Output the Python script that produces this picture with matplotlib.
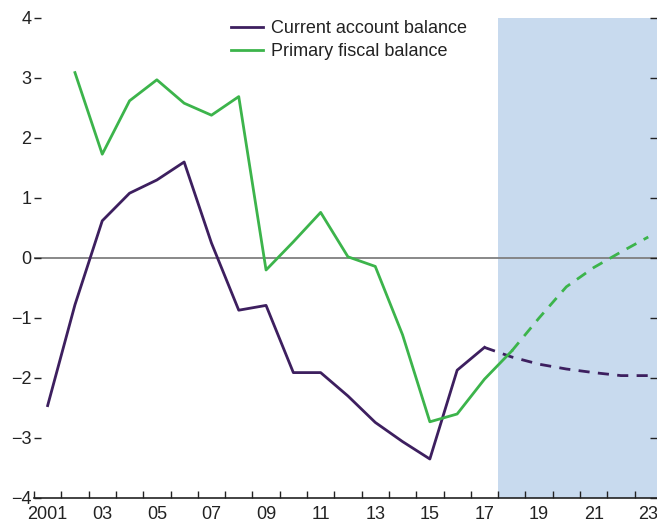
import matplotlib
matplotlib.use("Agg")
import matplotlib.pyplot as plt
from matplotlib.ticker import FixedLocator

plt.rcParams['font.family'] = ['Liberation Sans Narrow', 'Liberation Sans', 'DejaVu Sans']

# Data (percent of GDP)
years = list(range(2001, 2024))
current_account = [-2.46, -0.78, 0.62, 1.08, 1.30, 1.60, 0.25, -0.87, -0.79, -1.91,
                   -1.91, -2.30, -2.74, -3.06, -3.35, -1.87, -1.49,
                   -1.65, -1.77, -1.85, -1.91, -1.96, -1.96]
fiscal_years = list(range(2002, 2024))
primary_fiscal = [3.09, 1.73, 2.62, 2.97, 2.58, 2.38, 2.69, -0.20, 0.27, 0.76,
                  0.02, -0.14, -1.28, -2.73, -2.60, -2.02, -1.55,
                  -1.00, -0.48, -0.16, 0.10, 0.35]
ca_last_actual = 2017
pf_last_actual = 2018
forecast_start = 2017.5

tick_labels = ['2001'] + ['%02d' % (y % 100) for y in range(2003, 2024, 2)]

PURPLE = '#3d1f5f'
GREEN = '#3cb44b'
SHADE = '#c8daee'

fig = plt.figure(figsize=(6.57, 5.30), dpi=100)
ax = fig.add_axes([34 / 657, 32 / 530, 623 / 657, 480 / 530])

ax.axvspan(forecast_start, 2030, color=SHADE, lw=0, zorder=0)
ax.axhline(0, color='#7f7f7f', lw=1.3, zorder=1)

# split actual / projected
i = years.index(ca_last_actual)
ax.plot(years[:i + 1], current_account[:i + 1], color=PURPLE, lw=2, label='Current account balance', zorder=3)
ax.plot(years[i:], current_account[i:], color=PURPLE, lw=2, ls=(0, (4, 3)), zorder=3)

j = fiscal_years.index(pf_last_actual)
ax.plot(fiscal_years[:j + 1], primary_fiscal[:j + 1], color=GREEN, lw=2, label='Primary fiscal balance', zorder=3)
ax.plot(fiscal_years[j:], primary_fiscal[j:], color=GREEN, lw=2, ls=(0, (4, 3)), zorder=3)

ax.set_xlim(2000.5, 2000.5 + 623 / 27.3)
ax.set_ylim(-4, 4)

ax.xaxis.set_major_locator(FixedLocator(list(range(2001, 2024, 2))))
ax.set_xticklabels(tick_labels)
ax.xaxis.set_minor_locator(FixedLocator([y + 0.5 for y in range(2000, 2023)]))
ax.tick_params(axis='x', which='major', length=0, labelsize=13, pad=6, colors='#222222')
ax.tick_params(axis='x', which='minor', direction='in', length=5, width=1, color='#222222')

ax.set_yticks(range(-4, 5))
ax.set_yticklabels([str(v).replace('-', '\u2212') for v in range(-4, 5)])
ax.tick_params(axis='y', which='major', direction='in', length=5, width=1, labelsize=13,
               pad=2, left=True, right=True, colors='#222222')

for s in ['left', 'right', 'top']:
    ax.spines[s].set_visible(False)
ax.spines['bottom'].set_color('#222222')
ax.spines['bottom'].set_linewidth(1.2)

leg = ax.legend(loc='upper left', bbox_to_anchor=(0.29, 1.03), frameon=False, fontsize=13,
                handlelength=1.75, handletextpad=0.45, labelspacing=0.35)
for t in leg.get_texts():
    t.set_color('#222222')

fig.savefig('out.png', dpi=100)
